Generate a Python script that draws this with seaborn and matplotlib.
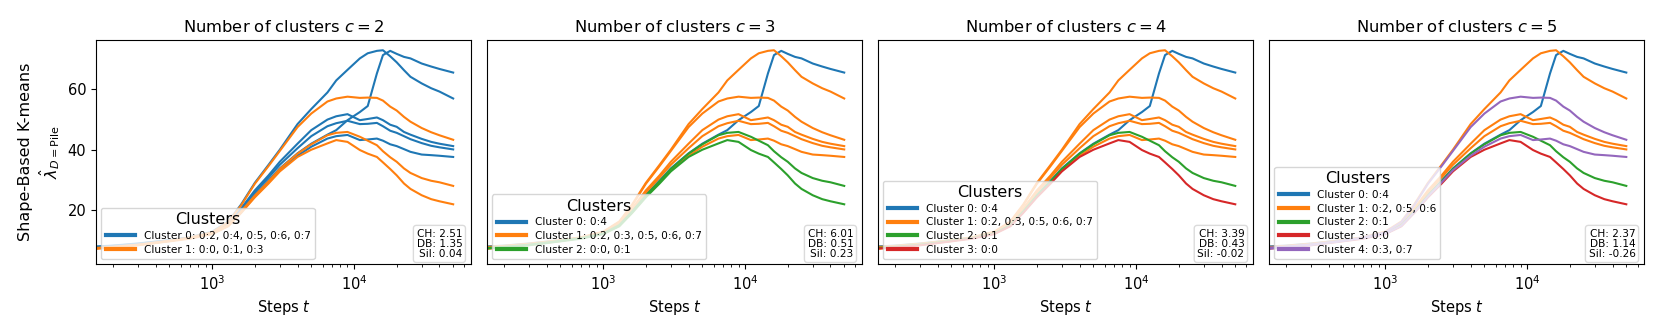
import matplotlib
matplotlib.use("Agg")
import matplotlib.pyplot as plt
import seaborn as sns
import numpy as np
import pandas as pd

steps = [150, 200, 300, 500, 700, 1000, 1300, 1600, 2000, 2500, 3000, 4000, 5000,
         6500, 7500, 9000, 11000, 12500, 14500, 16000, 18000, 20000, 22500,
         25000, 30000, 35000, 40000, 50000]

# lambda-hat curves for the eight runs 0:0 ... 0:7
run_0_0 = [7.2, 7.6, 8.3, 9.6, 10.5, 12.0, 14.6, 19.0, 24.2, 28.8, 32.8, 37.6, 40.0,
           42.1, 43.2, 42.6, 39.9, 38.7, 37.6, 35.8, 33.6, 31.5, 28.8, 27.0, 24.9, 23.6, 22.9, 21.9]
run_0_1 = [7.4, 7.8, 8.5, 9.8, 10.7, 12.2, 15.0, 19.5, 24.8, 29.5, 33.6, 38.7, 41.8,
           44.8, 45.6, 45.9, 44.3, 43.0, 41.5, 39.5, 37.5, 36.0, 33.8, 32.3, 30.6, 29.7, 29.2, 28.0]
run_0_2 = [7.3, 7.8, 8.5, 9.8, 11.0, 12.8, 16.2, 21.8, 29.0, 35.0, 40.0, 48.5, 53.5,
           59.0, 63.0, 66.5, 70.3, 72.0, 72.8, 73.0, 71.0, 69.0, 66.4, 64.2, 62.0, 60.4, 59.3, 57.0]
run_0_3 = [7.1, 7.7, 8.4, 9.7, 10.9, 12.6, 16.0, 21.5, 28.7, 34.6, 39.6, 47.5, 52.0,
           56.0, 57.0, 57.6, 57.2, 57.3, 57.2, 56.3, 54.3, 53.0, 50.9, 49.3, 47.2, 45.8, 44.8, 43.3]
run_0_4 = [7.9, 8.2, 8.9, 10.0, 10.8, 12.2, 15.0, 19.5, 25.0, 29.8, 33.8, 38.8, 42.0,
           45.0, 46.5, 49.8, 52.5, 54.5, 65.3, 71.4, 72.8, 71.8, 70.8, 70.3, 68.6, 67.6, 66.8, 65.6]
run_0_5 = [7.6, 8.0, 8.7, 9.9, 10.8, 12.4, 15.5, 20.5, 26.5, 31.5, 36.0, 42.0, 46.5,
           50.0, 51.1, 51.8, 49.8, 50.2, 50.7, 49.8, 48.3, 47.6, 45.9, 45.0, 43.6, 42.6, 42.0, 41.2]
run_0_6 = [7.7, 8.1, 8.8, 10.0, 10.8, 12.3, 15.2, 20.0, 25.8, 30.8, 35.0, 40.5, 44.5,
           47.8, 48.8, 49.6, 48.5, 48.6, 48.9, 47.8, 46.3, 45.6, 44.5, 43.5, 42.2, 41.3, 40.8, 40.1]
run_0_7 = [7.5, 7.9, 8.6, 9.8, 10.7, 12.1, 14.8, 19.2, 24.5, 29.2, 33.2, 38.0, 41.0,
           43.7, 44.5, 44.9, 43.2, 43.4, 43.7, 43.0, 41.8, 41.2, 40.2, 39.3, 38.4, 38.2, 38.0, 37.6]

run_names = ["0:0", "0:1", "0:2", "0:3", "0:4", "0:5", "0:6", "0:7"]
runs = [run_0_0, run_0_1, run_0_2, run_0_3, run_0_4, run_0_5, run_0_6, run_0_7]

# cluster assignment of each run (same order as run_names) for c = 2..5
n_clusters = [2, 3, 4, 5]
assignments = [
    [1, 1, 0, 1, 0, 0, 0, 0],
    [2, 2, 1, 1, 0, 1, 1, 1],
    [3, 2, 1, 1, 0, 1, 1, 1],
    [3, 2, 1, 4, 0, 1, 1, 4],
]
scores_ch = [2.51, 6.01, 3.39, 2.37]
scores_db = [1.35, 0.51, 0.43, 1.14]
scores_sil = [0.04, 0.23, -0.02, -0.26]

palette = sns.color_palette("tab10")

fig, axes = plt.subplots(1, 4, figsize=(16.61, 3.32), dpi=100, sharey=True)
fig.subplots_adjust(left=0.0578, right=0.9898, top=0.8795, bottom=0.204, wspace=0.043)

for ax, c, assign, ch, db, sil in zip(axes, n_clusters, assignments,
                                      scores_ch, scores_db, scores_sil):
    labels = []
    for k in range(c):
        members = [name for name, a in zip(run_names, assign) if a == k]
        labels.append(f"Cluster {k}: " + ", ".join(members))

    rows = []
    for name, vals, a in zip(run_names, runs, assign):
        for s, v in zip(steps, vals):
            rows.append({"step": s, "value": v, "run": name, "cluster": labels[a]})
    df = pd.DataFrame(rows)

    sns.lineplot(data=df, x="step", y="value", hue="cluster", units="run",
                 estimator=None, hue_order=labels, palette=palette[:c],
                 linewidth=1.5, ax=ax)

    ax.set_xscale("log")
    ax.set_xlim(152, 66700)
    ax.set_ylim(2, 76.4)
    ax.set_title(f"Number of clusters $c = {c}$", fontsize=11.8)
    ax.set_xlabel("Steps $t$", fontsize=10.5)
    ax.tick_params(labelsize=10.5)

    leg = ax.legend(title="Clusters", loc="lower left", fontsize=7.6,
                    title_fontsize=11.5, handlelength=2.8, labelspacing=0.35,
                    borderpad=0.4)
    for line in leg.get_lines():
        line.set_linewidth(3)

    ax.text(0.977, 0.022, f"CH: {ch:.2f}\nDB: {db:.2f}\nSil: {sil:.2f}",
            transform=ax.transAxes, ha="right", va="bottom", fontsize=7.6,
            linespacing=1.05,
            bbox=dict(boxstyle="round,pad=0.3", facecolor="white",
                      edgecolor="lightgray", alpha=0.8))

axes[0].set_ylabel("Shape-Based K-means\n$\\hat{\\lambda}_{D=\\mathrm{Pile}}$", fontsize=11.5)
for ax in axes[1:]:
    ax.set_ylabel("")
    ax.tick_params(axis="y", which="both", left=False)

fig.savefig("out.png", dpi=100)
